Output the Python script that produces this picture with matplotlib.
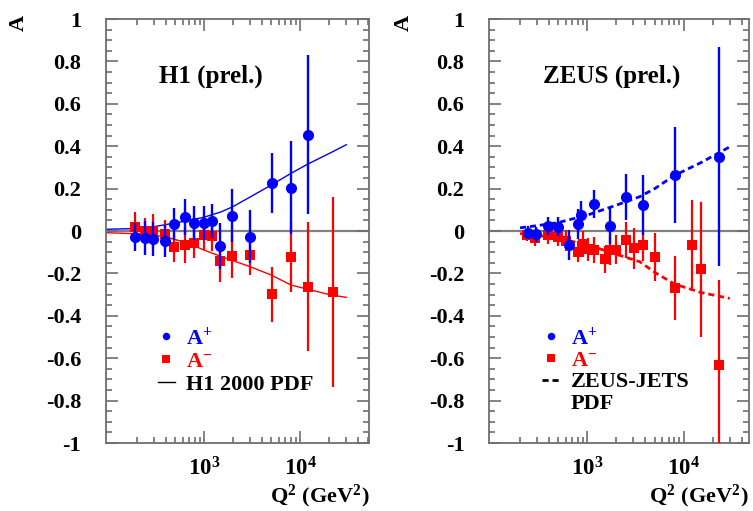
import matplotlib
matplotlib.use('Agg')
import matplotlib.pyplot as plt
from matplotlib.lines import Line2D
from matplotlib.ticker import MultipleLocator, LogLocator, NullFormatter

plt.rcParams['font.family'] = ['Liberation Serif', 'DejaVu Serif']
plt.rcParams['font.weight'] = 'bold'
plt.rcParams['mathtext.fontset'] = 'custom'
plt.rcParams['mathtext.rm'] = 'Liberation Serif:bold'
plt.rcParams['mathtext.it'] = 'Liberation Serif:bold'
plt.rcParams['mathtext.bf'] = 'Liberation Serif:bold'
plt.rcParams['mathtext.default'] = 'rm'

# ---------------- data ----------------
# H1 (prel.)
h1_q2_plus = [194, 245, 293, 391, 492, 635, 782, 993, 1202, 1476, 1954, 3006, 5046, 8000, 12100]
h1_a_plus = [-0.027, -0.034, -0.039, -0.047, 0.032, 0.065, 0.039, 0.036, 0.047, -0.071, 0.072, -0.027, 0.225, 0.204, 0.454]
h1_e_plus = [0.067, 0.079, 0.08, 0.075, 0.075, 0.084, 0.08, 0.08, 0.08, 0.11, 0.125, 0.126, 0.141, 0.22, 0.376]

h1_q2_minus = [194, 245, 293, 391, 492, 635, 782, 993, 1202, 1476, 1954, 3006, 5046, 8000, 12100, 22000]
h1_a_minus = [0.017, 0.0, 0.0, -0.016, -0.077, -0.066, -0.058, -0.019, -0.024, -0.142, -0.118, -0.113, -0.299, -0.124, -0.263, -0.286]
h1_e_minus = [0.074, 0.06, 0.08, 0.07, 0.068, 0.083, 0.07, 0.07, 0.07, 0.097, 0.105, 0.094, 0.13, 0.165, 0.304, 0.448]

h1_pdf_q2_plus = [96, 200, 300, 500, 700, 1000, 1500, 2000, 3000, 5000, 8000, 12000, 20000, 30000]
h1_pdf_plus = [0.008, 0.012, 0.02, 0.038, 0.05, 0.065, 0.09, 0.115, 0.16, 0.217, 0.272, 0.316, 0.366, 0.407]
h1_pdf_q2_minus = [96, 200, 300, 400, 500, 700, 1000, 1500, 2000, 3000, 5000, 8000, 12000, 20000, 30000]
h1_pdf_minus = [-0.008, -0.013, -0.02, -0.028, -0.04, -0.06, -0.09, -0.12, -0.14, -0.168, -0.208, -0.255, -0.275, -0.30, -0.313]

# ZEUS (prel.)
zeus_q2_plus = [244, 294, 393, 493, 646, 795, 861, 1182, 1719, 2518, 3810, 8130, 23200]
zeus_a_plus = [-0.008, -0.016, 0.024, 0.02, -0.066, 0.033, 0.075, 0.127, 0.025, 0.159, 0.123, 0.264, 0.351]
zeus_e_plus = [0.03, 0.035, 0.044, 0.045, 0.071, 0.07, 0.067, 0.066, 0.085, 0.108, 0.14, 0.225, 0.515]

zeus_q2_minus = [235, 286, 393, 493, 600, 806, 909, 1024, 1182, 1526, 1719, 1985, 2518, 3050, 3810, 5070, 8130, 12100, 15100, 23200]
zeus_a_minus = [-0.019, -0.035, -0.019, -0.027, -0.046, -0.097, -0.062, -0.086, -0.09, -0.134, -0.09, -0.088, -0.044, -0.082, -0.065, -0.123, -0.27, -0.066, -0.181, -0.632]
zeus_e_minus = [0.03, 0.035, 0.04, 0.045, 0.05, 0.05, 0.06, 0.055, 0.06, 0.065, 0.07, 0.07, 0.085, 0.095, 0.075, 0.115, 0.15, 0.21, 0.32, 0.40]

zeus_pdf_q2 = [200, 300, 500, 1000, 2000, 3500, 5000, 8000, 15000, 30000]
zeus_pdf_plus = [0.015, 0.025, 0.04, 0.075, 0.122, 0.162, 0.2, 0.262, 0.322, 0.397]
zeus_pdf_minus = [-0.012, -0.02, -0.035, -0.065, -0.11, -0.145, -0.195, -0.25, -0.29, -0.318]

y_ticks = [-1, -0.8, -0.6, -0.4, -0.2, 0, 0.2, 0.4, 0.6, 0.8, 1]
y_tick_labels = ['-1', '-0.8', '-0.6', '-0.4', '-0.2', '0', '0.2', '0.4', '0.6', '0.8', '1']
x_ticks = [1e3, 1e4]
x_tick_labels = ['$10^{3}$', '$10^{4}$']

BLUE = '#0000ff'
RED = '#ff0000'
FRAME = '#6e6e6e'

fig = plt.figure(figsize=(7.53, 5.11), dpi=100)
axL = fig.add_axes([106 / 753, 68 / 511, 263.3 / 753, 424 / 511])
axR = fig.add_axes([489.3 / 753, 68 / 511, 259.7 / 753, 424 / 511])


def style_axis(ax, xlim):
    ax.set_xscale('log')
    ax.set_xlim(*xlim)
    ax.set_ylim(-1, 1)
    ax.set_yticks(y_ticks, labels=y_tick_labels)
    ax.yaxis.set_minor_locator(MultipleLocator(0.05))
    ax.set_xticks(x_ticks, labels=x_tick_labels)
    ax.xaxis.set_minor_locator(LogLocator(base=10, subs=range(2, 10)))
    ax.xaxis.set_minor_formatter(NullFormatter())
    ax.tick_params(which='both', direction='in', top=True, right=True,
                   color=FRAME, width=1.2)
    ax.tick_params(which='major', length=8.8)
    ax.tick_params(which='minor', length=4.4)
    ax.tick_params(axis='y', which='major', pad=18, labelsize=16)
    ax.tick_params(axis='x', which='major', pad=10, labelsize=16.5)
    for s in ax.spines.values():
        s.set_color(FRAME)
        s.set_linewidth(1.3)
    ax.axhline(0, color='#808080', lw=1.6, zorder=1)
    ax.text(-0.33, 0.99, 'A', transform=ax.transAxes, rotation=90,
            fontsize=16, ha='center', va='center')
    ax.text(1.0, -0.141, r'$Q^{2}\ (GeV^{2})$', transform=ax.transAxes,
            fontsize=16, ha='right', va='baseline')


style_axis(axL, (96, 52000))
style_axis(axR, (96, 47500))

# ---- H1 panel ----
axL.plot(h1_pdf_q2_plus, h1_pdf_plus, color=BLUE, lw=1.0, zorder=2)
axL.plot(h1_pdf_q2_minus, h1_pdf_minus, color=RED, lw=1.0, zorder=2)
axL.errorbar(h1_q2_minus, h1_a_minus, yerr=h1_e_minus, fmt='s', color=RED,
             ms=7.3, mew=0, elinewidth=1.6, capsize=0, zorder=3)
axL.errorbar(h1_q2_plus, h1_a_plus, yerr=h1_e_plus, fmt='o', color=BLUE,
             ms=8.0, mew=0, elinewidth=1.7, capsize=0, zorder=4)
axL.text(0.202, 0.851, 'H1 (prel.)', transform=axL.transAxes, fontsize=18,
         va='baseline')

hL = [Line2D([], [], marker='o', ls='none', color=BLUE, ms=5.4, mew=0),
      Line2D([], [], marker='s', ls='none', color=RED, ms=5.5, mew=0),
      Line2D([], [], color='black', lw=1.0)]
axL.legend(hL, ['$A^{+}$', '$A^{-}$', 'H1 2000 PDF'], loc='upper left',
           bbox_to_anchor=(0.198, 0.275), frameon=False, fontsize=16,
           handlelength=0.75, handletextpad=0.5, labelspacing=0.1,
           borderpad=0, borderaxespad=0, labelcolor=[BLUE, RED, 'black'])

# ---- ZEUS panel ----
axR.plot(zeus_pdf_q2, zeus_pdf_plus, color=BLUE, lw=2.0, ls=(0, (2.2, 1.4)), zorder=2)
axR.plot(zeus_pdf_q2, zeus_pdf_minus, color=RED, lw=2.0, ls=(0, (2.2, 1.4)), zorder=2)
axR.errorbar(zeus_q2_minus, zeus_a_minus, yerr=zeus_e_minus, fmt='s', color=RED,
             ms=7.3, mew=0, elinewidth=1.6, capsize=0, zorder=3)
axR.errorbar(zeus_q2_plus, zeus_a_plus, yerr=zeus_e_plus, fmt='o', color=BLUE,
             ms=8.0, mew=0, elinewidth=1.7, capsize=0, zorder=4)
axR.text(0.208, 0.851, 'ZEUS (prel.)', transform=axR.transAxes, fontsize=18,
         va='baseline')

hR = [Line2D([], [], marker='o', ls='none', color=BLUE, ms=5.4, mew=0),
      Line2D([], [], marker='s', ls='none', color=RED, ms=5.5, mew=0),
      Line2D([], [], color='black', lw=2.0, ls=(0, (2.2, 1.4))),
      Line2D([], [], ls='none')]
axR.legend(hR, ['$A^{+}$', '$A^{-}$', 'ZEUS-JETS', 'PDF'], loc='upper left',
           bbox_to_anchor=(0.202, 0.275), frameon=False, fontsize=16,
           handlelength=0.82, handletextpad=0.5, labelspacing=0.05,
           borderpad=0, borderaxespad=0, labelcolor=[BLUE, RED, 'black', 'black'])

fig.savefig('out.png', dpi=100)
